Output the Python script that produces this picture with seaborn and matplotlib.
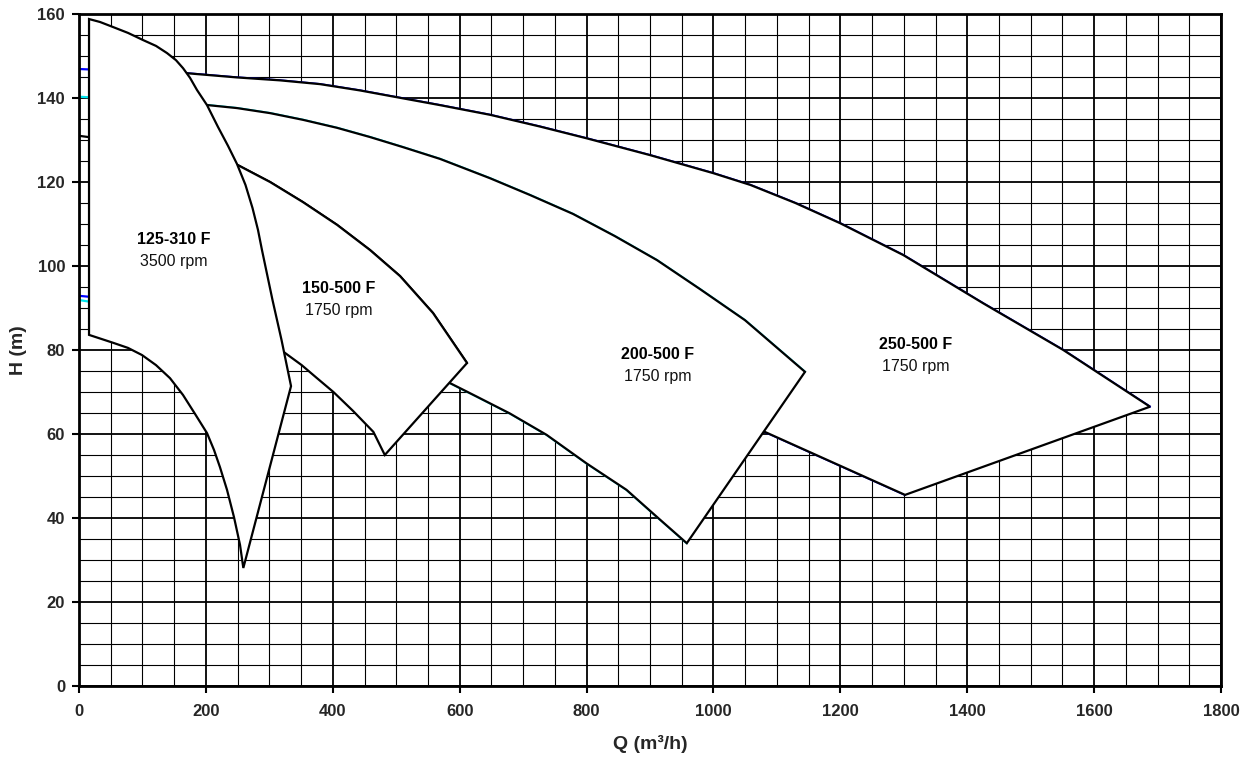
import numpy as np
import pandas as pd
import matplotlib
matplotlib.use("Agg")
import matplotlib.pyplot as plt
import seaborn as sns
from matplotlib.ticker import MultipleLocator

# ---------------- data ----------------
# 125-310 F, 3500 rpm
p125_top_q = [15.8, 33.1, 53.6, 77.2, 100.9, 121.4, 138.7, 152.9, 164.0, 175.0, 186.0,
              201.8, 219.1, 234.9, 249.0, 262.4, 273.5, 282.1, 288.4, 305.0, 319.2, 334.2]
p125_top_h = [158.8, 158.1, 156.9, 155.5, 153.8, 152.4, 150.7, 149.0, 147.1, 144.8, 141.9,
              138.3, 133.1, 128.6, 124.3, 119.3, 113.8, 108.6, 103.8, 91.9, 82.4, 71.4]
p125_bot_q = [15.8, 54.1, 77.2, 99.3, 121.4, 143.4, 163.9, 182.8, 201.8, 212.8, 222.2,
              233.3, 244.3, 253.8, 259.0]
p125_bot_h = [83.6, 81.7, 80.5, 78.8, 76.4, 73.3, 69.3, 64.8, 60.2, 56.2, 52.1,
              46.7, 40.2, 33.6, 28.1]

# 150-500 F, 1750 rpm
p150_top_q = [0, 100, 200, 250.6, 301.1, 353.1, 406.7, 458.7, 506.0, 558.0, 611.6]
p150_top_h = [131, 129, 126.3, 124.0, 120.0, 115.2, 109.8, 103.8, 97.6, 88.8, 76.9]
p150_bot_q = [100, 200, 250, 322, 351, 375.1, 401, 431.9, 464, 482]
p150_bot_h = [88, 85.5, 83.5, 79.6, 76.4, 73.3, 70, 65.5, 60.5, 55]

# 200-500 F, 1750 rpm
p200_top_q = [0, 100, 203.3, 249.0, 301.1, 353.1, 406.7, 458.7, 510.7, 569.0, 647.8,
              710.9, 778.6, 844.8, 911.0, 978.8, 1049.7, 1144.3]
p200_top_h = [140.3, 139.5, 138.3, 137.6, 136.4, 134.8, 132.9, 130.7, 128.3, 125.5, 120.9,
              116.9, 112.4, 107.1, 101.4, 94.5, 87.1, 74.8]
p200_bot_q = [0, 100, 300, 500, 585, 627, 679, 737, 800, 863, 910.6, 958]
p200_bot_h = [91.9, 89.5, 84, 76.5, 72.1, 68.9, 64.9, 59.8, 53, 46.7, 40.3, 34]

# 250-500 F, 1750 rpm
p250_top_q = [0, 100, 169.8, 248.6, 316.8, 379.9, 442.9, 511.2, 569.0, 647.8, 726.6,
              800.2, 900.0, 999.8, 1058.2, 1129.1, 1199.5, 1299.3, 1425.4, 1551.4, 1688.1]
p250_top_h = [146.9, 146.3, 145.9, 144.9, 144.2, 143.3, 141.8, 139.9, 138.3, 136.0, 133.2,
              130.4, 126.4, 122.1, 119.3, 115.0, 110.2, 102.6, 91.1, 80.0, 66.5]
p250_bot_q = [0, 100, 400, 700, 900, 1081, 1302]
p250_bot_h = [92.9, 91.5, 85, 75, 67, 60.5, 45.5]

pump_names = ["125-310 F", "150-500 F", "200-500 F", "250-500 F"]
pump_speeds = ["3500 rpm", "1750 rpm", "1750 rpm", "1750 rpm"]
label_q = [150, 409, 912, 1319]
label_h = [106.2, 94.7, 79.0, 81.2]

x_ticks = list(range(0, 1801, 200))
y_ticks = list(range(0, 161, 20))

# ---------------- style ----------------
sns.set_theme(style="white")
plt.rcParams["font.family"] = ["Liberation Sans", "DejaVu Sans"]
plt.rcParams["font.weight"] = "bold"

fig = plt.figure(figsize=(12.53, 7.62), dpi=100)
ax = fig.add_axes([79 / 1253, 1 - 686 / 762, (1221 - 79) / 1253, (686 - 14) / 762])

ax.set_xlim(0, 1800)
ax.set_ylim(0, 160)
ax.xaxis.set_minor_locator(MultipleLocator(50))
ax.yaxis.set_minor_locator(MultipleLocator(5))
ax.set_xticks(x_ticks)
ax.set_yticks(y_ticks)
ax.set_xticklabels([str(v) for v in x_ticks], fontweight="bold", fontsize=12)
ax.set_yticklabels([str(v) for v in y_ticks], fontweight="bold", fontsize=12)
ax.tick_params(axis="x", which="major", direction="out", length=5, width=1.5,
               color="black", pad=8, bottom=True)
ax.tick_params(axis="y", which="major", direction="out", length=5, width=1.5,
               color="black", pad=5, left=True)
ax.tick_params(axis="both", which="minor", length=0)
ax.grid(which="major", color="black", linewidth=1.3)
ax.grid(which="minor", color="black", linewidth=0.8)
ax.set_axisbelow(True)
for sp in ax.spines.values():
    sp.set_color("black")
    sp.set_linewidth(2)
    sp.set_zorder(20)

# ---------------- curves and envelopes ----------------
pumps = [
    # (top_q, top_h, bot_q, bot_h, head curve colour, min Q of envelope, draw bottom line)
    (p250_top_q, p250_top_h, p250_bot_q, p250_bot_h, "#0000ff", 100, True),
    (p200_top_q, p200_top_h, p200_bot_q, p200_bot_h, "#00e5ee", 100, True),
    (p150_top_q, p150_top_h, p150_bot_q, p150_bot_h, "black", 100, False),
    (p125_top_q, p125_top_h, p125_bot_q, p125_bot_h, None, 0, False),
]

z = 3
for tq, th, bq, bh, col, qmin, draw_bot in pumps:
    tq = np.asarray(tq, float); th = np.asarray(th, float)
    bq = np.asarray(bq, float); bh = np.asarray(bh, float)
    if col is not None:
        df = pd.DataFrame({"Q": tq, "H": th})
        sns.lineplot(data=df, x="Q", y="H", sort=False, color=col, lw=1.6, ax=ax,
                     zorder=z, estimator=None)
        if draw_bot:
            dfb = pd.DataFrame({"Q": bq, "H": bh})
            sns.lineplot(data=dfb, x="Q", y="H", sort=False, color=col, lw=1.6, ax=ax,
                         zorder=z, estimator=None)
    mt = tq >= qmin
    mb = bq >= qmin
    poly_q = np.concatenate([tq[mt], bq[mb][::-1]])
    poly_h = np.concatenate([th[mt], bh[mb][::-1]])
    ax.fill(poly_q, poly_h, facecolor="white", edgecolor="black", linewidth=1.6,
            joinstyle="miter", zorder=z + 1)
    z += 2

for name, spd, lq, lh in zip(pump_names, pump_speeds, label_q, label_h):
    ax.text(lq, lh, name, ha="center", va="center", fontsize=11.5, fontweight="bold",
            color="black", zorder=30)
    ax.text(lq, lh - 5.2, spd, ha="center", va="center", fontsize=11.5,
            fontweight="normal", color="#111111", zorder=30)

ax.set_xlabel("Q (m³/h)", fontsize=14, fontweight="bold")
ax.set_ylabel("H (m)", fontsize=14, fontweight="bold")
ax.xaxis.set_label_coords((650 - 79) / 1142, (686 - 735) / 672)
ax.yaxis.set_label_coords((27 - 79) / 1142, (686 - 350) / 672)

fig.savefig("out.png", dpi=100, facecolor="white")
